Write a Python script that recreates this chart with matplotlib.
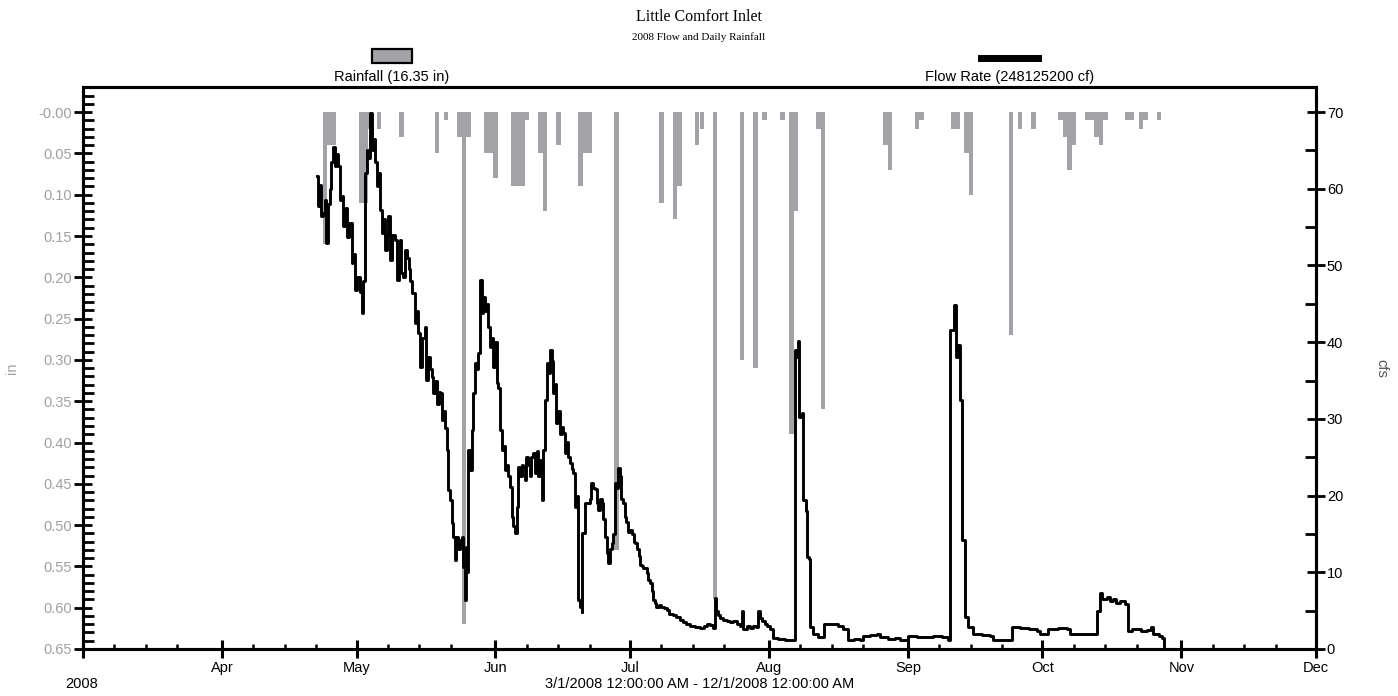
import numpy as np
import pandas as pd
import matplotlib
matplotlib.use("Agg")
import matplotlib.pyplot as plt
import matplotlib.dates as mdates
from matplotlib.ticker import MultipleLocator, FixedLocator, FixedFormatter, FuncFormatter
from matplotlib.patches import Rectangle
from matplotlib.lines import Line2D

plt.rcParams['font.family'] = ['Liberation Sans', 'DejaVu Sans']

# daily rainfall (inches)
rain_dates = ['2008-04-24', '2008-04-25', '2008-04-26', '2008-05-02', '2008-05-03', '2008-05-04',
              '2008-05-06', '2008-05-11', '2008-05-19', '2008-05-21', '2008-05-24', '2008-05-25',
              '2008-05-26', '2008-05-30', '2008-05-31', '2008-06-01', '2008-06-05', '2008-06-06',
              '2008-06-07', '2008-06-08', '2008-06-11', '2008-06-12', '2008-06-15', '2008-06-20',
              '2008-06-21', '2008-06-22', '2008-06-28', '2008-07-08', '2008-07-11', '2008-07-12',
              '2008-07-16', '2008-07-17', '2008-07-20', '2008-07-26', '2008-07-29', '2008-07-31',
              '2008-08-04', '2008-08-06', '2008-08-07', '2008-08-12', '2008-08-13', '2008-08-27',
              '2008-08-28', '2008-09-03', '2008-09-04', '2008-09-11', '2008-09-12', '2008-09-14',
              '2008-09-15', '2008-09-24', '2008-09-26', '2008-09-29', '2008-10-05', '2008-10-06',
              '2008-10-07', '2008-10-08', '2008-10-11', '2008-10-12', '2008-10-13', '2008-10-14',
              '2008-10-15', '2008-10-20', '2008-10-21', '2008-10-23', '2008-10-24', '2008-10-27']
rain_in = [0.16, 0.04, 0.04, 0.11, 0.11, 0.02,
           0.02, 0.03, 0.05, 0.01, 0.03, 0.62,
           0.03, 0.05, 0.05, 0.08, 0.09, 0.09,
           0.09, 0.01, 0.05, 0.12, 0.04, 0.09,
           0.05, 0.05, 0.53, 0.11, 0.13, 0.09,
           0.04, 0.02, 0.59, 0.30, 0.31, 0.01,
           0.01, 0.39, 0.12, 0.02, 0.36, 0.04,
           0.07, 0.02, 0.01, 0.02, 0.02, 0.05,
           0.10, 0.27, 0.02, 0.02, 0.01, 0.03,
           0.07, 0.04, 0.01, 0.01, 0.03, 0.04,
           0.01, 0.01, 0.01, 0.02, 0.01, 0.01]

# flow rate: days since 2008-03-01, cfs
flow_day = [52.3, 52.5, 52.8, 53.1, 53.6, 54.0, 54.3, 54.6, 55.0, 55.4, 55.8, 56.2, 56.5, 56.9,
            57.3, 57.7, 58.05, 58.4, 58.8, 59.3, 59.9, 60.3, 60.7, 61.2, 61.8, 62.2, 62.5, 62.9,
            63.3, 63.7, 64.0, 64.4, 64.8, 65.1, 65.5, 65.8, 66.2, 66.6, 67.0, 67.4, 67.8, 68.1,
            68.5, 69.0, 69.6, 70.0, 70.4, 70.7, 71.0, 71.4, 71.8, 72.2, 72.6, 72.9, 73.3, 74.0,
            74.4, 74.8, 75.2, 75.7, 76.3, 76.6, 77.0, 77.4, 77.8, 78.1, 78.5, 78.9, 79.3, 79.6,
            80.0, 80.4, 80.7, 81.1, 81.5, 81.8, 82.2, 82.6, 83.0, 83.3, 83.7, 84.1, 84.5, 84.8,
            85.2, 85.4, 85.6, 85.9, 86.3, 86.7, 87.0, 87.4, 87.8, 88.2, 88.5, 88.9, 89.3, 89.6,
            90.0, 90.4, 90.8, 91.1, 91.5, 91.9, 92.3, 92.6, 93.0, 93.4, 93.8, 94.1, 94.5, 94.9,
            95.2, 95.6, 96.0, 96.3, 96.7, 97.1, 97.5, 97.9, 98.2, 98.6, 98.9, 99.3, 99.7, 100.0,
            100.4, 100.8, 101.2, 101.5, 101.9, 102.3, 102.7, 103.0, 103.4, 103.7, 104.1, 104.5,
            104.9, 105.2, 105.6, 106.0, 106.4, 106.8, 107.1, 107.5, 107.9, 108.2, 108.6, 109.0,
            109.3, 109.7, 110.1, 110.5, 110.8, 111.2, 111.4, 112.0, 112.5, 113.1, 113.4, 113.8,
            114.2, 114.6, 114.9, 115.3, 115.7, 116.0, 116.4, 116.8, 117.2, 117.6, 117.9, 118.3,
            118.6, 119.0, 119.4, 119.7, 120.1, 120.5, 120.9, 121.2, 121.6, 122.0, 122.4, 122.8,
            123.1, 123.5, 123.9, 124.2, 124.6, 125.0, 125.7, 126.1, 126.5, 126.9, 127.2, 127.6,
            127.9, 128.5, 129.0, 129.6, 130.2, 130.8, 131.6, 132.3, 133.1, 133.8, 134.5, 135.4,
            136.5, 137.6, 138.5, 139.2, 139.8, 140.6, 140.9, 141.2, 141.7, 142.1, 142.8, 143.6,
            144.3, 145.0, 145.8, 146.5, 146.9, 147.3, 148.0, 148.8, 149.5, 150.0, 150.6, 151.0,
            151.4, 152.0, 152.5, 153.2, 153.9, 155.0, 156.5, 158.4, 158.8, 159.2, 159.5, 159.7,
            160.3, 160.6, 161.2, 161.5, 162.0, 162.1, 162.9, 164.0, 165.1, 165.3, 166.5, 167.3,
            168.5, 169.6, 170.7, 172.0, 173.3, 174.0, 175.5, 177.0, 177.7, 179.5, 181.0, 182.2,
            184.1, 185.9, 187.5, 189.6, 191.5, 193.0, 193.4, 194.0, 194.3, 194.6, 195.2, 195.6,
            196.0, 196.5, 196.7, 197.4, 198.5, 200.5, 202.3, 203.0, 205.0, 206.7, 207.1, 209.0,
            211.0, 212.7, 213.4, 215.3, 217.5, 219.4, 220.1, 223.0, 225.7, 226.1, 226.8, 227.2,
            227.5, 228.3, 229.0, 229.8, 230.5, 231.3, 232.4, 233.1, 234.0, 235.0, 236.0, 237.2,
            238.3, 238.7, 240.0, 240.6, 241.0]
flow_cfs = [61.6, 57.7, 60.5, 56.5, 56.8, 58.5, 52.9, 58.0, 60.0, 63.5, 65.5, 63.0, 64.5, 62.9,
            58.5, 59.0, 55.1, 57.5, 53.7, 55.5, 50.3, 51.5, 46.8, 48.5, 46.5, 43.8, 48.0, 62.0,
            65.0, 64.0, 69.9, 65.0, 66.5, 63.5, 60.3, 62.0, 57.2, 54.2, 56.0, 52.0, 54.0, 56.4,
            50.7, 54.0, 53.3, 48.1, 51.0, 53.3, 49.0, 48.5, 52.0, 51.0, 49.5, 48.0, 46.4, 42.5,
            44.0, 41.2, 36.8, 40.5, 42.0, 35.1, 38.0, 36.5, 35.5, 33.4, 35.0, 32.0, 33.5, 33.4,
            29.9, 31.0, 28.8, 25.9, 20.7, 19.4, 16.4, 14.6, 11.6, 14.6, 13.0, 14.2, 14.6, 10.7,
            6.4, 13.3, 10.0, 25.9, 23.3, 28.5, 33.4, 37.3, 36.5, 38.6, 48.1, 43.8, 45.9, 44.0,
            45.0, 42.0, 39.4, 40.5, 36.8, 40.0, 34.7, 34.0, 28.5, 25.9, 26.5, 23.3, 24.0, 22.5,
            21.1, 17.2, 16.0, 15.1, 18.5, 23.7, 22.5, 24.0, 23.7, 22.0, 25.0, 24.0, 22.5, 25.0,
            25.5, 23.0, 25.8, 22.5, 24.6, 19.4, 25.9, 32.5, 37.3, 36.0, 39.0, 37.5,
            33.4, 34.5, 29.5, 31.0, 28.0, 29.0, 28.2, 25.5, 27.0, 25.0, 24.2, 23.5,
            23.0, 18.5, 20.0, 6.4, 5.5, 4.8, 15.1, 19.0, 19.0, 19.5, 21.6, 21.0,
            20.8, 19.0, 18.1, 19.5, 19.0, 17.0, 14.6, 12.5, 11.2, 13.0, 13.8, 15.0,
            21.6, 21.0, 23.6, 22.5, 19.5, 19.0, 17.2, 16.5, 15.3, 15.5, 15.0, 14.0,
            13.8, 13.0, 12.1, 11.0, 10.8, 10.5, 9.9, 9.0, 8.6, 7.5, 6.4, 6.0,
            5.5, 5.8, 5.5, 5.3, 5.1, 4.6, 4.4, 4.2, 3.8, 3.5, 3.2, 3.0,
            2.9, 2.7, 3.0, 3.2, 3.1, 2.8, 6.6, 5.0, 4.4, 4.0, 3.8, 3.7,
            3.5, 3.7, 3.2, 3.0, 5.0, 2.6, 3.0, 2.8, 3.0, 2.9, 5.0, 4.0,
            3.6, 3.2, 3.0, 2.6, 1.4, 1.3, 1.2, 1.2, 39.0, 38.0, 40.1, 30.3,
            30.7, 19.4, 18.0, 12.0, 11.7, 2.9, 1.9, 1.6, 1.5, 3.2, 3.3, 3.2,
            3.0, 2.6, 1.2, 1.3, 1.2, 1.7, 1.8, 1.9, 1.5, 1.3, 1.4, 1.2,
            1.7, 1.5, 1.6, 1.7, 1.5, 1.2, 41.6, 41.6, 44.8, 38.1, 39.6, 32.5,
            14.2, 14.2, 4.2, 2.9, 1.9, 1.8, 1.7, 1.2, 1.2, 1.2, 2.9, 2.8,
            2.6, 2.3, 1.9, 2.6, 2.7, 2.6, 1.9, 1.9, 1.9, 5.0, 7.3, 6.5,
            6.5, 6.8, 6.2, 6.5, 6.0, 6.3, 5.9, 2.3, 2.6, 2.6, 2.4, 2.5,
            2.9, 1.9, 1.7, 1.4, 0.4]

left_ticks = [0.00, 0.05, 0.10, 0.15, 0.20, 0.25, 0.30, 0.35, 0.40, 0.45, 0.50, 0.55, 0.60, 0.65]
left_labels = ['-0.00', '0.05', '0.10', '0.15', '0.20', '0.25', '0.30', '0.35', '0.40',
               '0.45', '0.50', '0.55', '0.60', '0.65']
right_ticks = [0, 10, 20, 30, 40, 50, 60, 70]

start = pd.Timestamp('2008-03-01')
rain_x = pd.to_datetime(rain_dates)
flow_x = start + pd.to_timedelta(flow_day, unit='D')

W, H = 1398, 696
fig = plt.figure(figsize=(W / 100, H / 100), dpi=100)
L, R, T, B = 83, 1316, 87, 649
ax = fig.add_axes([L / W, 1 - B / H, (R - L) / W, (B - T) / H])

grey = '#a2a2a7'
ax.bar(rain_x, rain_in, width=1.0, color=grey, align='center', zorder=1)
ax.set_ylim(0.65, -0.0304)
ax.set_xlim(start, pd.Timestamp('2008-12-01'))

ax.yaxis.set_major_locator(FixedLocator(left_ticks))
ax.yaxis.set_major_formatter(FixedFormatter(left_labels))
ax.yaxis.set_minor_locator(MultipleLocator(0.01))
ax.tick_params(axis='y', which='major', direction='inout', length=13.5, width=2,
               labelsize=10.5, labelcolor='#a0a0a0', pad=1)
ax.tick_params(axis='y', which='minor', direction='in', length=8, width=2)

ax.xaxis.set_major_locator(mdates.MonthLocator())
ax.xaxis.set_minor_locator(mdates.DayLocator(bymonthday=[8, 15, 22]))
ax.xaxis.set_major_formatter(FuncFormatter(
    lambda v, p: '' if mdates.num2date(v).month == 3 else mdates.num2date(v).strftime('%b')))
ax.tick_params(axis='x', which='major', direction='inout', length=13.5, width=2.2,
               labelsize=10.5, pad=2)
ax.tick_params(axis='x', which='minor', direction='in', length=3.6, width=1.8)

for s in ax.spines.values():
    s.set_linewidth(2.2)

ax2 = ax.twinx()
ax2.plot(flow_x, flow_cfs, color='black', lw=2.1, drawstyle='steps-post', zorder=3)
ax2.set_ylim(0, 73.26)
ax2.yaxis.set_major_locator(FixedLocator(right_ticks))
ax2.yaxis.set_minor_locator(MultipleLocator(5))
ax2.tick_params(axis='y', which='major', direction='inout', length=13.5, width=2,
                labelsize=10.5, pad=1)
ax2.tick_params(axis='y', which='minor', direction='in', length=8, width=2)
for s in ax2.spines.values():
    s.set_linewidth(2.2)

# titles
fig.text(0.5, 1 - 17 / H, 'Little Comfort Inlet', ha='center', va='center',
         family=['Liberation Serif', 'DejaVu Serif'], fontsize=11.5)
fig.text(0.5, 1 - 37 / H, '2008 Flow and Daily Rainfall', ha='center', va='center',
         family=['Liberation Serif', 'DejaVu Serif'], fontsize=8)

# legend
fig.patches.append(Rectangle((372 / W, 1 - 63 / H), 40 / W, 14 / H, transform=fig.transFigure,
                             facecolor=grey, edgecolor='black', linewidth=1.6))
fig.text(392 / W, 1 - 77 / H, 'Rainfall (16.35 in)', ha='center', va='center', fontsize=10.5)
fig.lines.append(Line2D([981 / W, 1038 / W], [1 - 58 / H, 1 - 58 / H], transform=fig.transFigure,
                        color='black', linewidth=5))
fig.text(1010 / W, 1 - 77 / H, 'Flow Rate (248125200 cf)', ha='center', va='center', fontsize=10.5)

# axis labels
fig.text(12 / W, 1 - 368 / H, 'in', rotation=90, ha='center', va='center',
         color='#a0a0a0', fontsize=10.5)
fig.text(1381 / W, 1 - 368 / H, 'cfs', rotation=270, ha='center', va='center',
         color='#555555', fontsize=10.5)
fig.text(82 / W, 1 - 684 / H, '2008', ha='center', va='center', fontsize=10.5)
fig.text(700 / W, 1 - 684 / H, '3/1/2008 12:00:00 AM - 12/1/2008 12:00:00 AM',
         ha='center', va='center', fontsize=10.5)

fig.savefig('out.png', dpi=100)
